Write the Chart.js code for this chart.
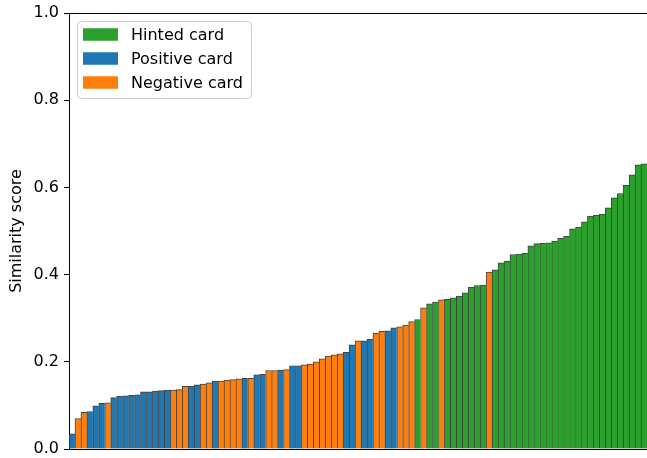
<!DOCTYPE html>
<html>
<head>
<meta charset="utf-8">
<script src="https://cdn.jsdelivr.net/npm/chart.js@4/dist/chart.umd.min.js"></script>
<style>
  html, body { margin: 0; padding: 0; background: #ffffff; }
  #wrap { width: 647px; height: 458px; }
</style>
</head>
<body>
<div id="wrap"><canvas id="chart" width="647" height="458"></canvas></div>
<script>
// Similarity score of each card, sorted ascending
const scores = [
  0.035, 0.070, 0.084, 0.086, 0.099, 0.105, 0.106, 0.118, 0.121, 0.122,
  0.123, 0.124, 0.131, 0.131, 0.133, 0.134, 0.135, 0.135, 0.136, 0.144,
  0.144, 0.147, 0.149, 0.152, 0.156, 0.156, 0.158, 0.159, 0.161, 0.162,
  0.162, 0.170, 0.171, 0.180, 0.180, 0.181, 0.182, 0.191, 0.191, 0.193,
  0.195, 0.200, 0.207, 0.213, 0.216, 0.218, 0.222, 0.239, 0.248, 0.248,
  0.252, 0.266, 0.270, 0.271, 0.278, 0.280, 0.284, 0.292, 0.297, 0.324,
  0.333, 0.337, 0.342, 0.343, 0.347, 0.351, 0.358, 0.371, 0.375, 0.376,
  0.406, 0.411, 0.427, 0.431, 0.446, 0.447, 0.449, 0.466, 0.471, 0.472,
  0.473, 0.477, 0.483, 0.488, 0.505, 0.509, 0.521, 0.534, 0.536, 0.539,
  0.553, 0.576, 0.586, 0.605, 0.629, 0.652, 0.654
];

// Card kind of each bar: H = hinted, P = positive, N = negative
const cardTypes = [
  'P','N','N','P','P','P','N','P','P','P',
  'P','P','P','P','P','P','P','N','N','N',
  'P','P','N','N','P','N','N','N','N','P',
  'N','P','P','N','N','P','N','P','P','N',
  'N','N','N','N','N','N','P','P','N','P',
  'P','N','N','P','P','N','N','N','H','N',
  'H','H','N','H','H','H','H','H','H','H',
  'N','H','H','H','H','H','H','H','H','H',
  'H','H','H','H','H','H','H','H','H','H',
  'H','H','H','H','H','H','H'
];

const seriesKeys   = ['H', 'P', 'N'];
const seriesLabels = ['Hinted card', 'Positive card', 'Negative card'];
const seriesColors = ['#2ca02c', '#1f77b4', '#ff7f0e'];

const yTickValues = [0.0, 0.2, 0.4, 0.6, 0.8, 1.0];

const categories = scores.map((_, i) => String(i + 1));

const datasets = seriesKeys.map((key, k) => ({
  label: seriesLabels[k],
  data: scores.map((v, i) => (cardTypes[i] === key ? v : null)),
  backgroundColor: seriesColors[k],
  borderColor: 'rgba(35,35,35,0.85)',
  borderWidth: { top: 1, left: 1, right: 0, bottom: 0 },
  borderSkipped: false,
  grouped: false,
  barPercentage: 1.0,
  categoryPercentage: 1.0
}));

const FONT = 'DejaVu Sans';

// Top and bottom spines, plus the framed legend in the upper-left corner
const framePlugin = {
  id: 'frameAndLegend',
  afterDraw(chart) {
    const { ctx, chartArea } = chart;
    ctx.save();
    ctx.strokeStyle = '#000000';
    ctx.lineWidth = 1;
    ctx.beginPath();
    ctx.moveTo(chartArea.left, Math.round(chartArea.top) + 0.5);
    ctx.lineTo(chartArea.right, Math.round(chartArea.top) + 0.5);
    ctx.moveTo(chartArea.left, Math.round(chartArea.bottom) + 0.5);
    ctx.lineTo(chartArea.right, Math.round(chartArea.bottom) + 0.5);
    ctx.stroke();

    // legend box
    const bx = 77.5, by = 21.5, bw = 174, bh = 77, r = 4;
    ctx.beginPath();
    ctx.moveTo(bx + r, by);
    ctx.lineTo(bx + bw - r, by);
    ctx.arcTo(bx + bw, by, bx + bw, by + r, r);
    ctx.lineTo(bx + bw, by + bh - r);
    ctx.arcTo(bx + bw, by + bh, bx + bw - r, by + bh, r);
    ctx.lineTo(bx + r, by + bh);
    ctx.arcTo(bx, by + bh, bx, by + bh - r, r);
    ctx.lineTo(bx, by + r);
    ctx.arcTo(bx, by, bx + r, by, r);
    ctx.closePath();
    ctx.fillStyle = 'rgba(255,255,255,0.8)';
    ctx.fill();
    ctx.strokeStyle = '#cccccc';
    ctx.stroke();

    ctx.font = '16px "' + FONT + '"';
    ctx.textBaseline = 'alphabetic';
    ctx.textAlign = 'left';
    chart.data.datasets.forEach((ds, k) => {
      const cy = 34.5 + k * 24;
      ctx.fillStyle = ds.backgroundColor;
      ctx.fillRect(83, cy - 6.25, 35, 12.5);
      ctx.fillStyle = '#000000';
      ctx.fillText(ds.label, 131, cy + 5.8);
    });
    ctx.restore();
  }
};

new Chart(document.getElementById('chart'), {
  type: 'bar',
  data: { labels: categories, datasets },
  options: {
    responsive: false,
    animation: false,
    layout: { padding: { top: 13, right: 0, bottom: 9, left: 0 } },
    plugins: {
      legend: { display: false },
      tooltip: { enabled: false }
    },
    scales: {
      x: {
        display: false
      },
      y: {
        min: 0,
        max: 1,
        afterBuildTicks(axis) { axis.ticks = yTickValues.map(v => ({ value: v })); },
        ticks: {
          color: '#000000',
          padding: 5,
          font: { family: FONT, size: 16, lineHeight: 0.01 },
          callback: v => Number(v).toFixed(1)
        },
        grid: {
          drawOnChartArea: false,
          drawTicks: true,
          tickLength: 5,
          color: '#000000'
        },
        border: { display: true, color: '#000000', width: 1 },
        title: {
          display: true,
          text: 'Similarity score',
          color: '#000000',
          font: { family: FONT, size: 16 },
          padding: { top: 7, bottom: 0 }
        },
        afterFit(axis) { axis.width = 69; }
      }
    }
  },
  plugins: [framePlugin]
});
</script>
</body>
</html>
